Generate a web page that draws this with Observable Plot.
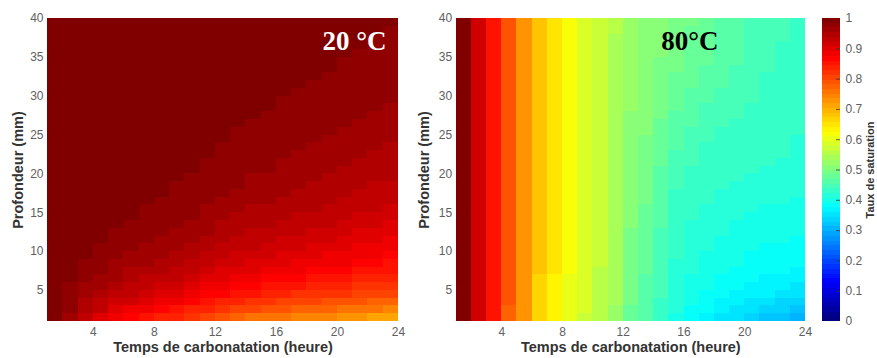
<!DOCTYPE html>
<html><head><meta charset="utf-8">
<script src="https://cdn.jsdelivr.net/npm/d3@7"></script>
<script src="https://cdn.jsdelivr.net/npm/@observablehq/plot@0.6"></script>
<style>
body{margin:0;background:#fff;}
#wrap{position:relative;width:877px;height:358px;overflow:hidden;background:#fff;}
#wrap > svg{position:absolute;top:0;}
</style></head><body><div id="wrap"></div>
<script>
// Grid edges (hours and depth in mm)
const hourEdges = [1,2,3,4,5,6,7,8,9,10,11,12,13,14,15,16,17,18,19,20,21,22,23,24];
const depthEdges = [1,2,3,4,5,6,7,8,9,10,11,12,13,14,15,16,17,18,19,20,21,22,23,24,25,26,27,28,29,30,31,32,33,34,35,36,37,38,39,40];
const xTicks = [4,8,12,16,20,24];
const yTicks = [5,10,15,20,25,30,35,40];
const cbTicks = [0,0.1,0.2,0.3,0.4,0.5,0.6,0.7,0.8,0.9,1];

// Saturation (per mille), one list per hour column, depth 1 -> 40 mm — 20 °C
const sat20C = [
[986,989,991,992,993,994,995,995,996,996,997,997,997,998,998,998,998,998,998,998,999,999,999,999,999,999,999,999,999,999,999,999,999,999,999,999,999,999,999],
[961,971,975,979,983,986,989,991,993,994,995,995,996,996,997,997,997,998,998,998,998,998,998,999,999,999,999,999,999,999,999,999,999,999,999,999,999,999,999],
[930,943,953,961,968,973,978,981,985,987,989,990,991,992,993,994,995,995,996,996,997,997,997,998,998,998,998,998,999,999,999,999,999,999,999,999,999,999,999],
[905,922,936,947,956,963,969,974,979,982,985,987,989,990,991,992,993,994,995,995,996,996,997,997,997,998,998,998,998,998,999,999,999,999,999,999,999,999,999],
[885,905,921,934,945,954,961,967,972,976,980,983,985,988,989,990,991,992,993,994,995,995,996,996,997,997,997,998,998,998,998,999,999,999,999,999,999,999,999],
[867,890,908,923,935,945,953,960,966,971,975,978,981,985,987,988,989,990,991,992,993,994,995,995,996,996,997,997,997,998,998,998,998,999,999,999,999,999,999],
[852,876,896,912,926,936,945,954,960,965,970,974,977,981,983,985,987,988,989,990,991,992,993,994,995,995,996,996,997,997,997,998,998,998,998,999,999,999,999],
[840,866,887,903,918,929,939,947,954,960,965,970,973,977,980,982,985,986,987,988,989,990,991,992,993,994,995,995,996,996,997,997,997,998,998,998,998,999,999],
[830,857,878,895,910,922,932,941,948,955,960,965,969,973,976,979,981,983,986,987,988,989,990,991,992,993,994,995,995,996,996,997,997,997,998,998,998,999,999],
[815,843,866,885,900,913,924,934,941,949,954,960,964,969,972,975,978,980,982,985,987,988,989,990,991,992,993,994,995,995,996,996,997,997,997,998,998,998,999],
[800,830,854,874,890,904,916,926,934,942,948,954,959,964,968,971,974,977,979,981,983,985,987,988,989,990,991,992,993,994,995,995,996,996,997,997,997,998,998],
[785,816,841,862,880,894,906,917,926,934,941,947,953,958,962,966,969,973,975,978,980,982,983,985,987,988,989,990,991,992,993,994,995,995,996,996,997,997,998],
[775,807,833,854,871,886,899,910,920,928,935,942,947,953,958,962,965,969,972,974,977,979,981,983,984,986,987,988,989,990,991,992,993,994,995,995,996,996,997],
[765,798,824,846,864,879,892,904,914,922,930,937,943,949,953,958,962,965,968,971,974,976,978,980,982,984,985,987,988,989,990,991,992,993,994,995,995,996,996],
[757,790,817,840,858,874,887,899,909,918,926,933,939,945,950,955,959,962,966,969,971,974,976,978,980,982,984,985,987,988,989,990,991,992,993,994,995,995,996],
[750,784,811,833,852,868,881,893,903,912,920,928,934,940,946,950,954,958,962,965,968,971,973,975,977,979,981,983,984,986,987,988,989,990,991,992,993,994,995],
[745,779,806,828,847,863,876,888,898,908,916,923,929,936,942,946,951,955,958,962,965,968,970,973,975,977,979,981,982,984,985,987,988,989,990,991,992,993,994],
[740,774,801,824,843,859,872,884,895,904,912,920,926,933,939,944,948,952,956,959,963,966,968,971,973,975,977,979,981,982,984,985,987,988,989,990,991,992,993],
[735,769,796,819,838,854,867,880,890,899,908,915,922,929,934,940,944,949,952,956,959,962,965,968,970,973,975,977,978,980,982,983,985,986,987,988,989,990,991],
[730,764,792,814,833,849,863,875,885,895,903,911,918,925,931,936,940,945,949,953,956,959,962,965,968,970,972,974,976,978,979,981,982,984,985,986,987,988,989],
[722,756,785,807,826,843,857,869,880,890,898,906,913,920,926,931,936,941,945,949,953,956,959,962,965,967,970,972,974,975,977,979,980,982,983,985,986,987,988],
[716,751,779,802,821,838,852,864,875,885,893,901,908,916,922,927,932,937,941,945,949,953,956,959,962,964,967,969,971,973,975,977,978,980,981,983,984,985,986],
[710,745,774,797,816,833,847,859,870,880,889,897,904,912,918,923,928,933,938,942,946,949,953,956,959,962,964,967,969,971,973,975,977,978,980,981,982,984,985]
];

// Saturation (per mille), one list per hour column, depth 1 -> 40 mm — 80 °C
const sat80C = [
[995,995,995,995,995,995,995,995,995,995,995,995,995,995,995,995,995,995,995,995,995,995,995,995,995,995,995,995,995,995,995,995,995,995,995,995,995,995,995],
[912,913,914,914,914,914,914,914,914,914,914,914,914,914,914,914,914,914,914,914,914,914,914,914,914,914,914,914,914,914,914,914,914,914,914,914,914,914,914],
[853,853,853,853,853,853,853,853,853,853,853,853,853,853,853,853,853,853,853,853,853,853,853,853,853,853,853,853,853,853,853,853,853,853,853,853,853,853,853],
[778,780,782,790,790,790,790,790,790,790,790,790,790,790,790,790,790,790,790,790,790,790,790,790,790,790,790,790,790,790,790,790,790,790,790,790,790,790,790],
[720,722,727,727,727,727,727,727,727,727,727,727,727,727,727,727,727,727,727,727,727,727,727,727,727,727,727,727,727,727,727,727,727,727,727,727,727,727,727],
[666,666,666,666,666,666,680,680,680,680,680,680,680,680,680,680,680,680,680,680,680,680,680,680,680,680,680,680,680,680,680,680,680,680,680,680,680,680,680],
[632,632,632,632,632,632,648,648,648,648,648,648,648,648,648,648,648,648,648,648,648,648,648,648,648,648,648,648,648,648,648,648,648,648,648,648,648,648,648],
[605,605,605,605,605,605,617,617,617,617,617,617,617,617,617,617,617,617,617,617,617,617,617,617,617,617,617,617,617,617,617,617,617,617,617,617,617,617,617],
[578,579,580,581,582,583,584,585,586,586,587,587,588,588,588,589,589,589,589,590,590,590,590,590,590,590,590,590,590,590,590,590,590,590,590,590,590,590,590],
[556,557,558,559,560,561,562,563,564,564,565,565,566,566,566,567,567,567,568,568,568,569,569,569,569,570,570,570,570,570,570,571,571,571,571,571,572,572,572],
[530,531,532,533,534,535,536,537,538,538,539,539,540,540,540,541,541,541,542,542,542,543,543,543,543,544,544,544,544,545,545,545,545,546,546,546,546,547,547],
[480,484,486,489,491,492,493,495,496,497,498,499,500,501,502,504,505,506,507,508,509,510,511,512,513,514,515,516,517,518,519,520,521,522,523,524,525,525,526],
[455,460,462,464,466,467,469,471,473,474,476,478,480,482,483,485,486,488,489,491,493,495,497,499,500,501,502,503,504,505,506,507,508,509,510,511,512,512,513],
[430,435,437,439,441,442,444,446,448,449,451,453,455,457,458,460,461,463,464,467,470,472,475,478,481,483,485,487,489,491,493,495,497,499,500,501,502,502,503],
[405,410,412,414,416,417,419,421,423,424,426,428,430,432,433,435,436,438,439,442,446,450,454,458,462,465,468,471,474,477,480,483,486,489,490,491,492,493,494],
[385,390,394,398,402,405,408,411,413,414,416,418,420,422,425,427,429,432,434,437,440,443,446,449,452,455,458,461,464,467,470,473,476,479,481,482,483,484,485],
[370,375,381,387,392,395,398,401,404,407,410,412,415,417,420,422,424,427,429,431,433,435,437,439,442,445,448,451,454,457,460,463,466,469,471,472,473,474,475],
[355,365,372,379,385,389,393,396,399,402,405,407,410,413,416,418,421,424,427,429,430,432,434,435,437,440,443,445,448,451,454,456,459,462,464,465,466,467,468],
[345,355,364,373,380,384,388,391,394,397,400,402,405,408,411,414,417,420,423,426,427,429,431,432,434,436,438,441,443,445,447,450,452,454,456,457,458,459,460],
[336,348,358,367,374,379,383,387,390,393,397,400,403,406,409,412,415,418,420,423,424,426,428,429,431,433,435,436,438,440,442,444,445,447,449,450,451,452,453],
[326,340,350,360,368,374,379,384,387,390,394,397,400,403,406,409,412,415,418,421,422,424,426,427,429,430,431,432,433,435,436,437,438,439,441,442,443,444,445],
[316,330,342,354,363,370,377,382,385,388,392,395,398,401,404,407,410,413,416,419,420,422,423,424,426,427,428,429,430,431,432,433,434,435,436,437,438,439,440],
[305,322,335,348,359,366,373,379,382,385,389,392,395,398,401,404,407,410,413,416,417,419,420,421,422,423,424,425,426,426,427,428,429,430,430,431,432,433,434]
];

// MATLAB-like jet colormap, 64 levels
function jet(t){
  const c = x => Math.max(0, Math.min(1, x));
  return d3.rgb(255*c(1.5-Math.abs(4*t-3)), 255*c(1.5-Math.abs(4*t-2)), 255*c(1.5-Math.abs(4*t-1))).formatHex();
}
const jet64 = d3.range(64).map(k => jet(k/63));
const colorOpts = {type:"threshold", domain: d3.range(1,64).map(k => k/64), range: jet64};

function cells(cols){
  const out = [];
  cols.forEach((col, i) => col.forEach((v, j) => out.push({
    x1: hourEdges[i], x2: hourEdges[i+1], y1: depthEdges[j], y2: depthEdges[j+1], v: v/1000
  })));
  return out;
}

const FONT = "'Liberation Sans', Arial, Helvetica, sans-serif";
const TICK = "#606060";
const LAB = "#333";

function heatmap(cols, o){
  return Plot.plot({
    width: o.width, height: 358,
    marginTop: 18, marginBottom: 37, marginLeft: o.ml, marginRight: o.mr,
    style: {fontFamily: FONT, fontSize: "12px", background: "transparent", overflow: "visible"},
    x: {domain: [1,24]},
    y: {domain: [1,40]},
    color: colorOpts,
    marks: [
      Plot.rect(cells(cols), {x1:"x1", x2:"x2", y1:"y1", y2:"y2", fill:"v", shapeRendering:"crispEdges"}),
      Plot.axisX(xTicks, {tickSize:0, tickPadding:6, fill:TICK, fontSize:12, label:null}),
      Plot.axisY(yTicks, {tickSize:0, tickPadding:4, fill:TICK, fontSize:12, label:null}),
      Plot.text(["Temps de carbonatation (heure)"], {text:d=>d, frameAnchor:"bottom", dy:30, textAnchor:"middle", fontWeight:"bold", fontSize:14.5, fill:LAB}),
      Plot.text(["Profondeur (mm)"], {text:d=>d, frameAnchor:"left", dx:o.ylabDx, textAnchor:"middle", rotate:-90, fontWeight:"bold", fontSize:14.5, fill:LAB}),
      Plot.text([o.tag], {text:d=>d, frameAnchor:o.tagAnchor, dx:o.tagDx, dy:12, textAnchor:o.tagText,
        fill:o.tagFill, fontFamily:"'Liberation Serif', 'Times New Roman', serif", fontWeight:"bold", fontSize:27})
    ]
  });
}

const wrap = document.getElementById("wrap");

const p20 = heatmap(sat20C, {width:420, ml:47, mr:22, ylabDx:-29.5, tag:"20 °C", tagAnchor:"top-right", tagDx:-12, tagText:"end", tagFill:"white"});
p20.style.left = "0px";
wrap.appendChild(p20);

const p80 = heatmap(sat80C, {width:400, ml:45.7, mr:5, ylabDx:-31.7, tag:"80°C", tagAnchor:"top", tagDx:59, tagText:"middle", tagFill:"black"});
p80.style.left = "410px";
wrap.appendChild(p80);

const levels = d3.range(64);
const cb = Plot.plot({
  width: 67, height: 358,
  marginTop: 18, marginBottom: 37, marginLeft: 12, marginRight: 37,
  style: {fontFamily: FONT, fontSize: "12px", background: "transparent", overflow: "visible"},
  x: {domain: [0,1], axis: null},
  y: {domain: [0,1]},
  color: colorOpts,
  marks: [
    Plot.rect(levels, {x1:0, x2:1, y1:k=>k/64, y2:k=>(k+1)/64, fill:k=>(k+0.5)/64, shapeRendering:"crispEdges"}),
    Plot.ruleY(cbTicks.slice(1,-1), {x1:0.78, x2:1, stroke:"#333", strokeWidth:0.8}),
    Plot.axisY(cbTicks, {anchor:"right", tickSize:0, tickPadding:5, fill:TICK, fontSize:12, tickFormat:d=>String(d), label:null}),
    Plot.text(["Taux de saturation"], {text:d=>d, frameAnchor:"right", dx:29.5, textAnchor:"middle", rotate:-90, fontWeight:"bold", fontSize:11, fill:LAB})
  ]
});
cb.style.left = "810px";
wrap.appendChild(cb);
</script>
</body></html>
